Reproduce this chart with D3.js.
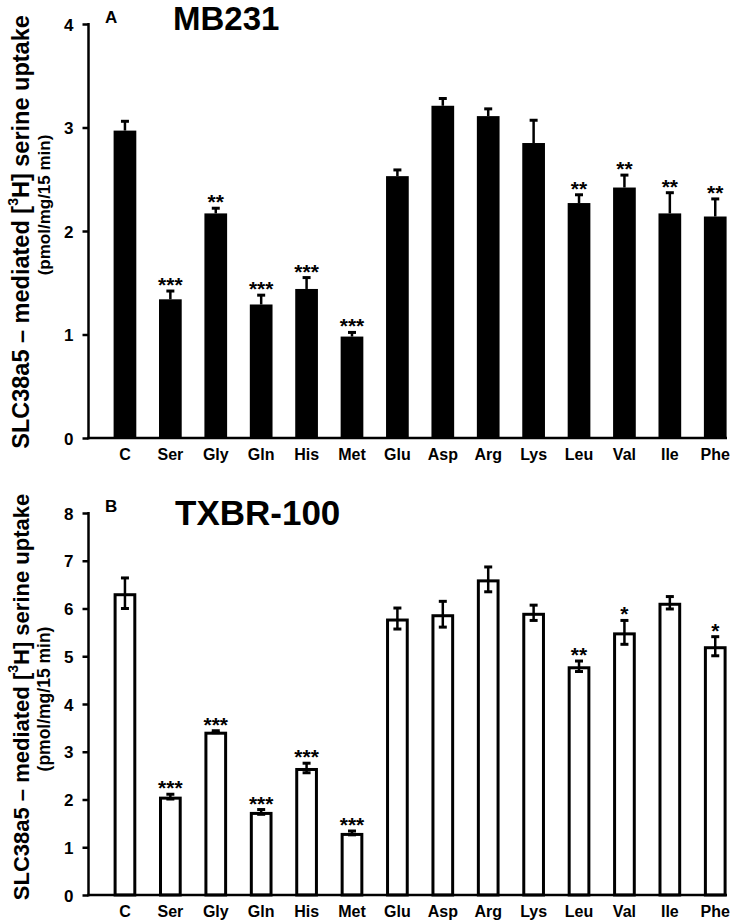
<!DOCTYPE html>
<html>
<head>
<meta charset="utf-8">
<script src="https://cdn.jsdelivr.net/npm/d3@7"></script>
<style>
  body { margin: 0; background: #fff; }
  svg text { font-family: "Liberation Sans", Arial, sans-serif; font-weight: bold; fill: #000; }
</style>
</head>
<body>
<svg width="730" height="920"></svg>
<script>
const categories = ["C", "Ser", "Gly", "Gln", "His", "Met", "Glu", "Asp", "Arg", "Lys", "Leu", "Val", "Ile", "Phe"];

// panel A - MB231
const valuesA = [2.97, 1.34, 2.17, 1.29, 1.44, 0.98, 2.53, 3.21, 3.11, 2.85, 2.27, 2.42, 2.17, 2.14];
const errorsA = [0.09, 0.08, 0.05, 0.09, 0.11, 0.04, 0.06, 0.07, 0.07, 0.22, 0.08, 0.12, 0.20, 0.17];
const starsA = ["", "***", "**", "***", "***", "***", "", "", "", "", "**", "**", "**", "**"];
const ticksA = [0, 1, 2, 3, 4];

// panel B - TXBR-100
const valuesB = [6.32, 2.06, 3.42, 1.74, 2.66, 1.30, 5.79, 5.88, 6.61, 5.91, 4.79, 5.50, 6.12, 5.21];
const errorsB = [0.32, 0.05, 0.02, 0.05, 0.10, 0.04, 0.22, 0.27, 0.26, 0.16, 0.11, 0.25, 0.13, 0.20];
const starsB = ["", "***", "***", "***", "***", "***", "", "", "", "", "**", "*", "", "*"];
const ticksB = [0, 1, 2, 3, 4, 5, 6, 7, 8];

const svg = d3.select("svg");

const x = d3.scaleBand()
  .domain(categories)
  .range([113.6, 726.6])
  .paddingInner(0.5)
  .paddingOuter(0);

const axisX = 88.5;
const axisRight = 727;

function panel(opts) {
  const y = d3.scaleLinear()
    .domain([0, opts.max])
    .range([opts.bottom, opts.top]);

  const g = svg.append("g");

  // y axis
  const yAxis = d3.axisLeft(y).tickValues(opts.ticks).tickSize(6).tickPadding(9).tickFormat(d3.format("d"));
  const ya = g.append("g")
    .attr("transform", `translate(${axisX}, 0)`)
    .call(yAxis);
  ya.select(".domain").remove();
  ya.selectAll("line").attr("stroke", "#000").attr("stroke-width", 2.5);
  ya.selectAll("text").style("font-size", "17px").attr("dy", "0.36em");

  g.append("line")
    .attr("x1", axisX).attr("x2", axisX)
    .attr("y1", y(opts.max) - 1).attr("y2", y(0) + 1.25)
    .attr("stroke", "#000").attr("stroke-width", 2.5);

  // bars
  const hollow = opts.hollow;
  const sw = hollow ? 3 : 0;
  g.selectAll("rect.bar")
    .data(opts.values)
    .enter()
    .append("rect")
    .attr("class", "bar")
    .attr("x", (d, i) => x(categories[i]) + sw / 2)
    .attr("width", x.bandwidth() - sw)
    .attr("y", d => y(d) + sw / 2)
    .attr("height", d => y(0) - y(d) - sw / 2)
    .attr("fill", hollow ? "#fff" : "#000")
    .attr("stroke", hollow ? "#000" : "none")
    .attr("stroke-width", sw);

  // error bars
  const err = g.selectAll("g.err")
    .data(opts.values.map((v, i) => ({ v, e: opts.errors[i], c: categories[i] })))
    .enter()
    .append("g")
    .attr("class", "err");

  const cx = d => x(d.c) + x.bandwidth() / 2;
  err.append("line")
    .attr("x1", cx).attr("x2", cx)
    .attr("y1", d => y(d.v + d.e)).attr("y2", d => y(hollow ? d.v - d.e : d.v))
    .attr("stroke", "#000").attr("stroke-width", 2.5);
  err.append("line")
    .attr("x1", d => cx(d) - 4).attr("x2", d => cx(d) + 4)
    .attr("y1", d => y(d.v + d.e)).attr("y2", d => y(d.v + d.e))
    .attr("stroke", "#000").attr("stroke-width", 3);
  if (hollow) {
    err.append("line")
      .attr("x1", d => cx(d) - 4).attr("x2", d => cx(d) + 4)
      .attr("y1", d => y(d.v - d.e)).attr("y2", d => y(d.v - d.e))
      .attr("stroke", "#000").attr("stroke-width", 3);
  }

  // significance stars
  err.append("text")
    .attr("x", cx)
    .attr("y", d => y(d.v + d.e) + 1)
    .attr("text-anchor", "middle")
    .style("font-size", "21px")
    .text((d, i) => opts.stars[i]);

  // x axis line + labels
  g.append("line")
    .attr("x1", axisX - 1.25).attr("x2", axisRight)
    .attr("y1", y(0)).attr("y2", y(0))
    .attr("stroke", "#000").attr("stroke-width", 2.5);

  const xAxis = d3.axisBottom(x).tickSize(0).tickPadding(11);
  const xa = g.append("g")
    .attr("transform", `translate(0, ${y(0)})`)
    .call(xAxis);
  xa.select(".domain").remove();
  xa.selectAll("text").style("font-size", "16px");

  // panel letter and title
  g.append("text")
    .attr("x", 105).attr("y", opts.top - 1)
    .style("font-size", "17px")
    .text(opts.letter);

  g.append("text")
    .attr("x", opts.titleX).attr("y", opts.titleY)
    .style("font-size", opts.titleSize + "px")
    .text(opts.title);

  // y axis title
  const lab = g.append("text")
    .attr("transform", `translate(21, ${opts.labY}) rotate(-90)`)
    .attr("text-anchor", "middle")
    .attr("dominant-baseline", "central")
    .style("font-size", opts.labSize + "px");
  lab.append("tspan").text("SLC38a5 \u2013 mediated [");
  lab.append("tspan").attr("baseline-shift", "super").style("font-size", "14px").text("3");
  lab.append("tspan").text("H] serine uptake");

  g.append("text")
    .attr("transform", `translate(44, ${opts.subY}) rotate(-90)`)
    .attr("text-anchor", "middle")
    .attr("dominant-baseline", "central")
    .style("font-size", opts.subSize + "px")
    .text("(pmol/mg/15 min)");
}

panel({
  values: valuesA, errors: errorsA, stars: starsA, ticks: ticksA,
  max: 4, top: 24, bottom: 438, hollow: false,
  letter: "A", title: "MB231", titleX: 173, titleY: 30, titleSize: 33,
  labY: 232, labSize: 23.5, subY: 205, subSize: 17
});

panel({
  values: valuesB, errors: errorsB, stars: starsB, ticks: ticksB,
  max: 8, top: 513, bottom: 895, hollow: true,
  letter: "B", title: "TXBR-100", titleX: 175, titleY: 525, titleSize: 35,
  labY: 697, labSize: 22, subY: 699, subSize: 17.5
});
</script>
</body>
</html>
